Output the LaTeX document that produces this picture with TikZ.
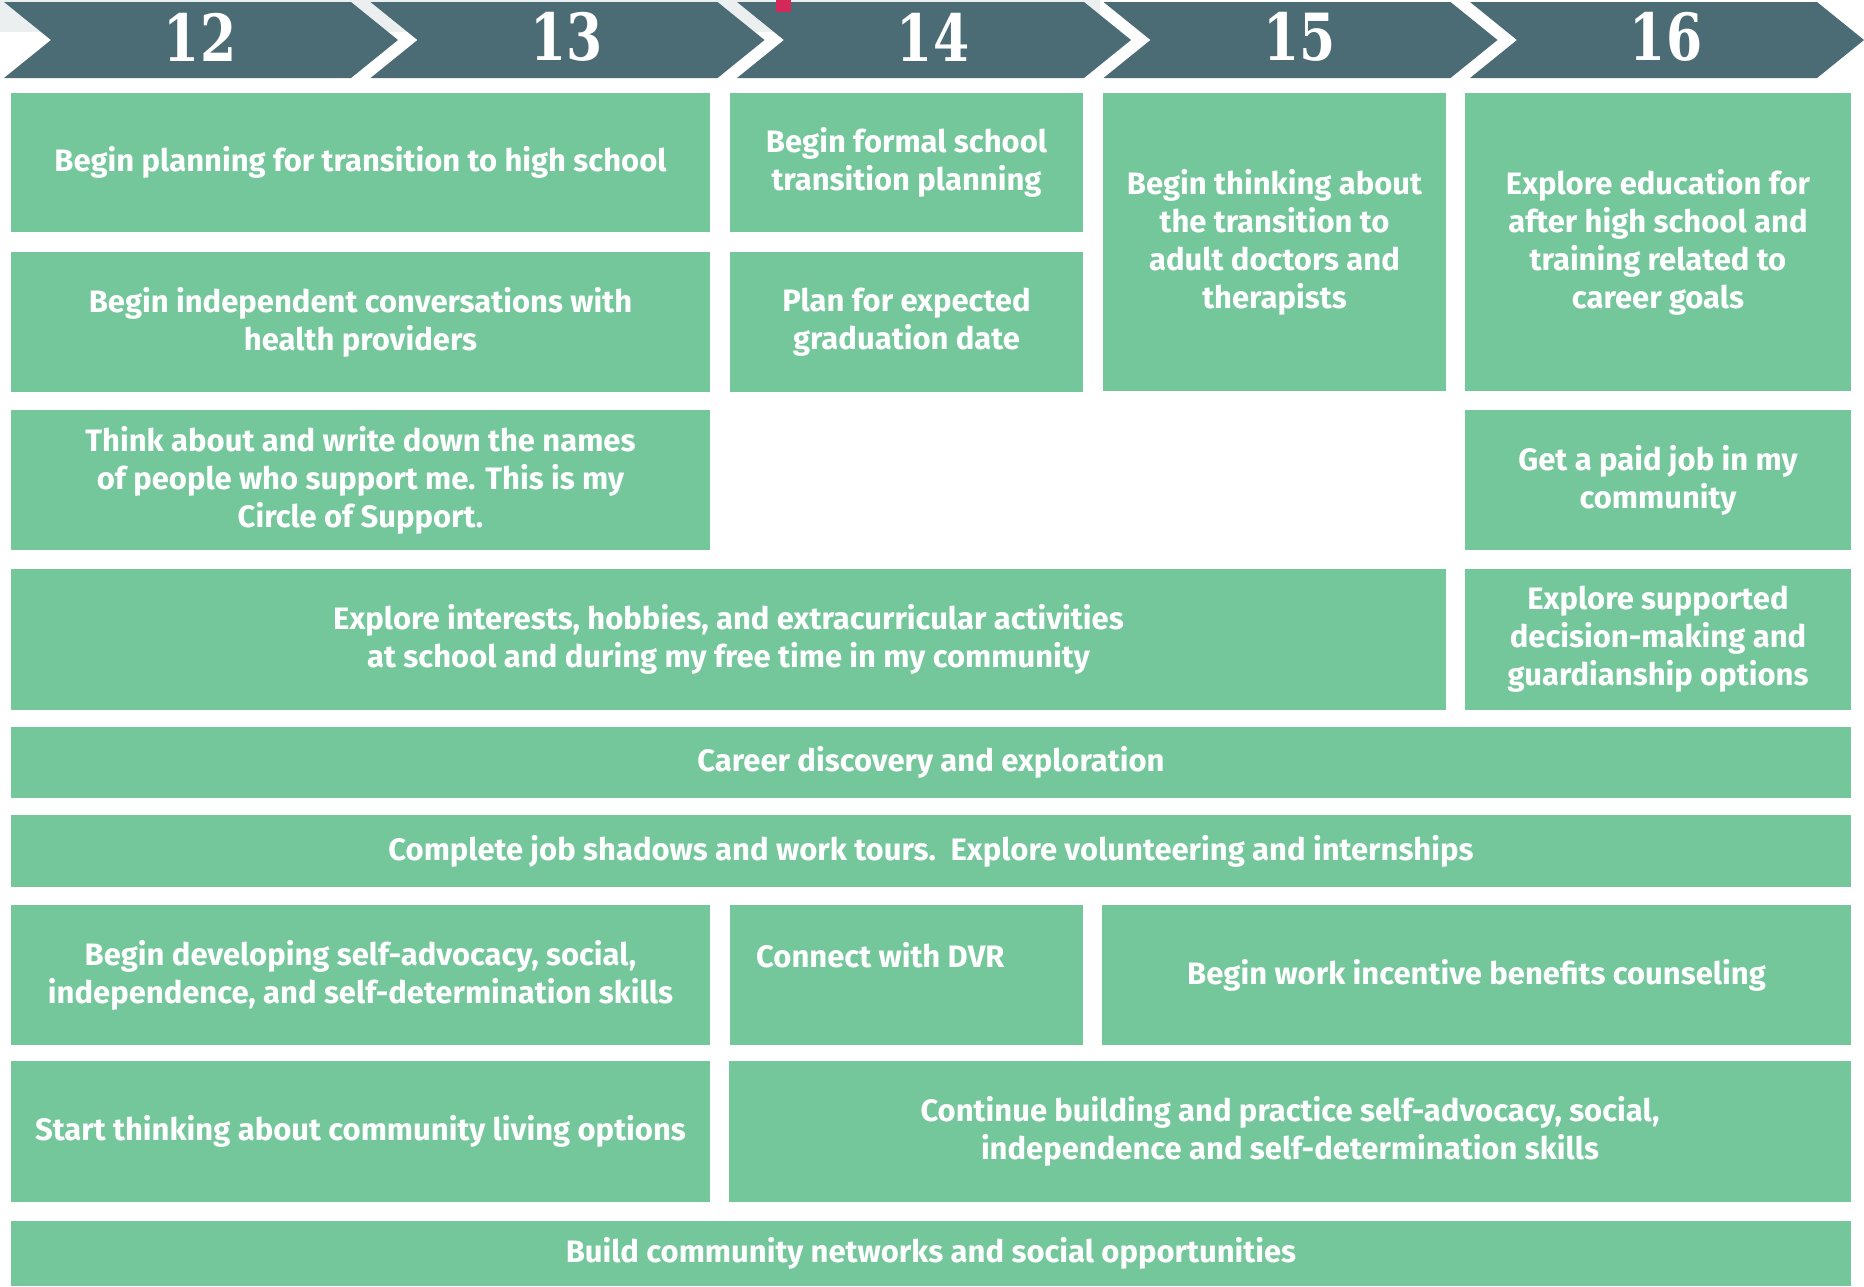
\documentclass[tikz,border=0pt]{standalone}
\usepackage{fontspec}
\newfontfamily\boxfont{Fira Sans}
\newfontfamily\numfont{DejaVu Serif}[FakeStretch=0.8]
\definecolor{boxgreen}{HTML}{74C69B}
\definecolor{chevron}{HTML}{4B6C74}
\definecolor{bandgray}{HTML}{ECEFF0}
\definecolor{markpink}{HTML}{D4285A}
\tikzset{
  gbox/.style={fill=boxgreen, draw=none, inner sep=0pt, text=white, align=center,
    font=\boxfont\bfseries\fontsize{31}{38}\selectfont},
  gtext/.style={inner sep=0pt, text=white, align=left,
    font=\boxfont\bfseries\fontsize{31}{38}\selectfont},
  agenum/.style={inner sep=0pt, text=white, font=\numfont\bfseries\fontsize{65}{65}\selectfont},
  chev/.style={fill=chevron, draw=none}
}
\newcommand\gbx[6]{\node[gbox, minimum width={#4-#2}, minimum height={#5-#3}] (#1) at ({(#2+#4)/2},{(#3+#5)/2}) {#6};}
\newcommand\chevat[3]{%
  \fill[chev] (#1,2) -- ({#1+347},2) -- ({#1+394},40) -- ({#1+347},78) -- (#1,78) -- ({#1+47},40) -- cycle;
  \node[agenum] (#2) at ({#1+196},37) {#3};}
\begin{document}
\begin{tikzpicture}[x=1pt,y=-1pt]
\useasboundingbox (0,0) rectangle (1864,1286);
\fill[white] (0,0) rectangle (1864,1286);
\fill[bandgray] (0,0) rectangle (1100,32);
\chevat{4}{n12}{12}
\chevat{370.5}{n13}{13}
\chevat{737}{n14}{14}
\chevat{1103.5}{n15}{15}
\chevat{1470}{n16}{16}
\fill[markpink] (776,0) rectangle (791,12);
% column 12-13
\gbx{plan}{11}{93}{710}{232}{Begin planning for transition to high school}
\gbx{indep}{11}{252}{710}{392}{Begin independent conversations with\\health providers}
\gbx{circle}{11}{410}{710}{550}{Think about and write down the names\\of people who support me. This is my\\Circle of Support.}
% column 14
\gbx{formal}{730}{93}{1083}{232}{Begin formal school\\transition planning}
\gbx{gradu}{730}{252}{1083}{392}{Plan for expected\\graduation date}
% column 15
\gbx{doctors}{1103}{93}{1446}{391}{Begin thinking about\\the transition to\\adult doctors and\\therapists}
% column 16
\gbx{educ}{1465}{93}{1851}{391}{Explore education for\\after high school and\\training related to\\career goals}
\gbx{job}{1465}{410}{1851}{550}{Get a paid job in my\\community}
% wide rows
\gbx{interests}{11}{569}{1446}{710}{Explore interests, hobbies, and extracurricular activities\\at school and during my free time in my community}
\gbx{decision}{1465}{569}{1851}{710}{Explore supported\\decision-making and\\guardianship options}
\gbx{career}{11}{727}{1851}{798}{Career discovery and exploration}
\gbx{shadow}{11}{815}{1851}{887}{Complete job shadows and work tours.\ \ Explore volunteering and internships}
\gbx{selfadv}{11}{905}{710}{1045}{Begin developing self-advocacy, social,\\independence, and self-determination skills}
\gbx{dvr}{730}{905}{1083}{1045}{}
\node[gtext, anchor=west] (dvrtext) at (756,955) {Connect with DVR};
\gbx{incentive}{1102}{905}{1851}{1045}{Begin work incentive benefits counseling}
\gbx{living}{11}{1061}{710}{1202}{Start thinking about community living options}
\gbx{continue}{729}{1061}{1851}{1202}{Continue building and practice self-advocacy, social,\\independence and self-determination skills}
\gbx{network}{11}{1221}{1851}{1286}{Build community networks and social opportunities}
\end{tikzpicture}
\end{document}
